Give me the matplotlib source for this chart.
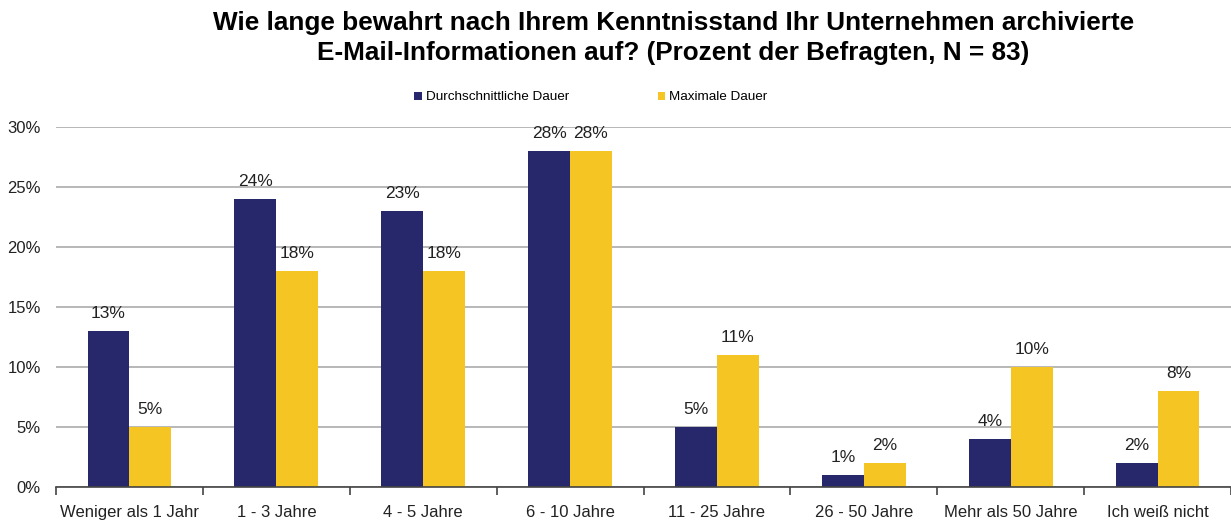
import numpy as np
import matplotlib.pyplot as plt

plt.rcParams['font.family'] = ['Liberation Sans', 'DejaVu Sans']

# Data
categories = ['Weniger als 1 Jahr', '1 - 3 Jahre', '4 - 5 Jahre', '6 - 10 Jahre',
              '11 - 25 Jahre', '26 - 50 Jahre', 'Mehr als 50 Jahre', 'Ich weiß nicht']
avg_dauer = [13, 24, 23, 28, 5, 1, 4, 2]
max_dauer = [5, 18, 18, 28, 11, 2, 10, 8]
series_names = ['Durchschnittliche Dauer', 'Maximale Dauer']

navy = '#27276B'
gold = '#F5C623'

fig = plt.figure(figsize=(12.31, 5.21), dpi=100)
ax = fig.add_axes([0.0455, 0.065, 0.9545, 0.691])

x = np.arange(len(categories))
w = 0.285
b1 = ax.bar(x - w / 2, avg_dauer, width=w, color=navy, zorder=3, label=series_names[0])
b2 = ax.bar(x + w / 2, max_dauer, width=w, color=gold, zorder=3, label=series_names[1])

for bars, vals in ((b1, avg_dauer), (b2, max_dauer)):
    for rect, v in zip(bars, vals):
        ax.annotate(f'{v}%', (rect.get_x() + rect.get_width() / 2, v),
                    xytext=(0, 7), textcoords='offset points',
                    ha='center', va='bottom', fontsize=12.5, color='#222222')

ax.set_xlim(-0.5, len(categories) - 0.5)
ax.set_ylim(0, 30)
ax.set_yticks(np.arange(0, 31, 5))
ax.set_yticklabels([f'{t}%' for t in range(0, 31, 5)], fontsize=12, color='#222222')
ax.yaxis.grid(True, color='#ABABAB', linewidth=1.2, zorder=0)
ax.tick_params(axis='y', length=0, pad=11)

ax.set_xticks(x)
ax.set_xticklabels(categories, fontsize=12, color='#222222')
ax.set_xticks(np.arange(-0.5, len(categories), 1), minor=True)
ax.tick_params(axis='x', which='major', length=0, pad=13)
ax.tick_params(axis='x', which='minor', length=6, width=1.2, color='#444444', direction='out')

for s in ('left', 'right', 'top'):
    ax.spines[s].set_visible(False)
ax.spines['bottom'].set_color('#444444')
ax.spines['bottom'].set_linewidth(1.2)
ax.spines['bottom'].set_zorder(4)

fig.text(0.547, 0.978, 'Wie lange bewahrt nach Ihrem Kenntnisstand Ihr Unternehmen archivierte\n'
         'E-Mail-Informationen auf? (Prozent der Befragten, N = 83)',
         ha='center', va='top', fontsize=18.8, fontweight='bold', linespacing=1.3)

leg = fig.legend(handles=[b1, b2], loc='center', bbox_to_anchor=(0.48, 0.813), ncol=2,
                 frameon=False, fontsize=9.7, handlelength=0.55, handleheight=0.55,
                 handletextpad=0.3, columnspacing=6.6)

fig.savefig('out.png', dpi=100)
